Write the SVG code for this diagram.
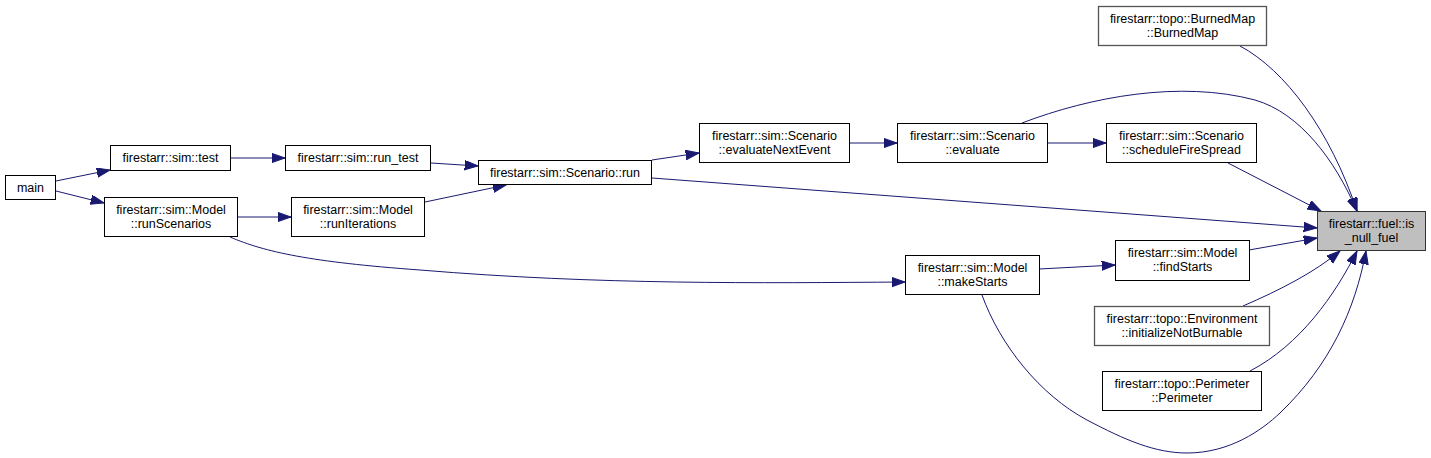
<svg xmlns="http://www.w3.org/2000/svg" width="1431" height="458" viewBox="0 0 1431 458">
<style>
.n rect{fill:#ffffff;stroke:#000000;stroke-width:1}
.g rect{stroke:#555555;stroke-width:1.3}
.h rect{fill:#bfbfbf;stroke:#333333;stroke-width:1}
text{font-family:"Liberation Sans",Arial,sans-serif;font-size:12.5px;fill:#000000;text-anchor:middle}
#edges path{fill:none;stroke:#191970;stroke-width:1;marker-end:url(#ah)}
</style>
<defs>
<marker id="ah" markerUnits="userSpaceOnUse" markerWidth="15" markerHeight="11" refX="13.3" refY="4.7" orient="auto">
<path d="M0,0 L13.3,4.7 L0,9.4 z" fill="#191970" stroke="#191970" stroke-width="1"/>
</marker>
</defs>
<rect x="0" y="0" width="1431" height="458" fill="#ffffff"/>
<g id="edges">
<path d="M56,181 L110,170"/>
<path d="M56,191 L104,203"/>
<path d="M231,158 L285,158"/>
<path d="M237,217 L291,217"/>
<path d="M431,163 L478,166"/>
<path d="M425,202 L506,185"/>
<path d="M652,160 L699,153"/>
<path d="M849,143 L897,143"/>
<path d="M1047,143 L1106,143"/>
<path d="M652,178 L1317,228"/>
<path d="M1022,123 C1090,97 1180,80 1255,100 C1300,113 1335,160 1357,211"/>
<path d="M1240,46 C1285,70 1330,130 1357,211"/>
<path d="M1228,163 L1321,211"/>
<path d="M1249,250 L1317,238"/>
<path d="M1039,269 L1115,265"/>
<path d="M1243,306 C1280,290 1315,272 1340,251"/>
<path d="M1250,371 C1300,345 1335,295 1357,251"/>
<path d="M982,295 C1000,345 1040,395 1087,420 C1125,440 1155,453 1187,453 C1230,453 1262,430 1280,413 C1330,365 1355,310 1366,251"/>
<path d="M230,237 C265,252 310,262 420,270 C600,285 760,283 905,282"/>
</g>
<g id="main" class="n"><rect x="5.5" y="175.5" width="50" height="24"/><text x="30.5" y="191.5">main</text></g>
<g id="test" class="n"><rect x="110.5" y="145.5" width="120" height="25"/><text x="170.5" y="162">firestarr::sim::test</text></g>
<g id="run_test" class="n"><rect x="285.5" y="145.5" width="145" height="25"/><text x="358" y="162">firestarr::sim::run_test</text></g>
<g id="runScenarios" class="n"><rect x="104.5" y="197.5" width="133" height="39"/><text x="171" y="213.5">firestarr::sim::Model</text><text x="171" y="227.5">::runScenarios</text></g>
<g id="runIterations" class="n"><rect x="291.5" y="197.5" width="133" height="39"/><text x="358" y="213.5">firestarr::sim::Model</text><text x="358" y="227.5">::runIterations</text></g>
<g id="run" class="n"><rect x="478.5" y="160.5" width="173" height="24"/><text x="565" y="176.5">firestarr::sim::Scenario::run</text></g>
<g id="evaluateNextEvent" class="n"><rect x="699.5" y="123.5" width="150" height="39"/><text x="774.5" y="139.5">firestarr::sim::Scenario</text><text x="774.5" y="153.5">::evaluateNextEvent</text></g>
<g id="evaluate" class="n"><rect x="897.5" y="123.5" width="150" height="39"/><text x="972.5" y="139.5">firestarr::sim::Scenario</text><text x="972.5" y="153.5">::evaluate</text></g>
<g id="scheduleFireSpread" class="n"><rect x="1106.5" y="123.5" width="150" height="39"/><text x="1181.5" y="139.5">firestarr::sim::Scenario</text><text x="1181.5" y="153.5">::scheduleFireSpread</text></g>
<g id="BurnedMap" class="n g"><rect x="1098.5" y="6.5" width="168" height="39"/><text x="1182.5" y="22.5">firestarr::topo::BurnedMap</text><text x="1182.5" y="36.5">::BurnedMap</text></g>
<g id="is_null_fuel" class="n h"><rect x="1317.5" y="211.5" width="108" height="39"/><text x="1371.5" y="227.5">firestarr::fuel::is</text><text x="1371.5" y="241.5">_null_fuel</text></g>
<g id="findStarts" class="n"><rect x="1115.5" y="240.5" width="134" height="40"/><text x="1182.5" y="257">firestarr::sim::Model</text><text x="1182.5" y="271">::findStarts</text></g>
<g id="makeStarts" class="n"><rect x="905.5" y="255.5" width="134" height="39"/><text x="972.5" y="271.5">firestarr::sim::Model</text><text x="972.5" y="285.5">::makeStarts</text></g>
<g id="Environment" class="n g"><rect x="1094.5" y="306.5" width="175" height="39"/><text x="1182" y="322.5">firestarr::topo::Environment</text><text x="1182" y="336.5">::initializeNotBurnable</text></g>
<g id="Perimeter" class="n"><rect x="1102.5" y="371.5" width="159" height="39"/><text x="1182" y="387.5">firestarr::topo::Perimeter</text><text x="1182" y="401.5">::Perimeter</text></g>
</svg>
